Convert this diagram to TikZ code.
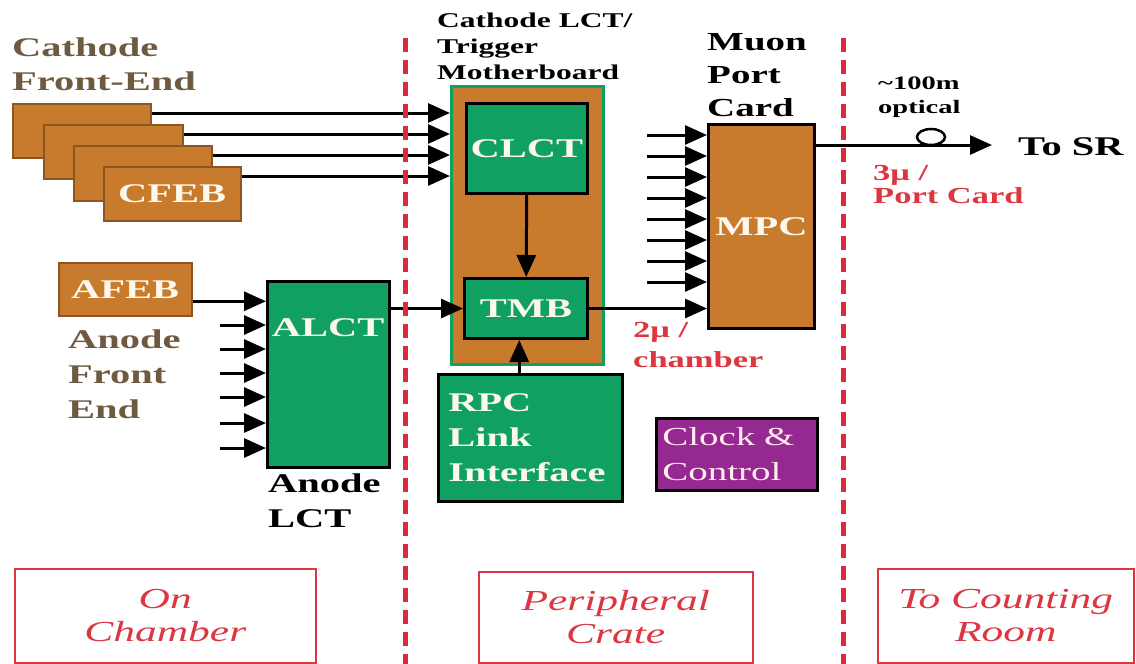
\documentclass[tikz,border=0pt]{standalone}
\usepackage{fontspec}
\setmainfont{Liberation Serif}[FakeStretch=1.5]
\usetikzlibrary{arrows.meta, positioning, calc}
\definecolor{cardorange}{RGB}{200,122,45}
\definecolor{cardedge}{RGB}{140,85,35}
\definecolor{chipgreen}{RGB}{16,160,98}
\definecolor{ctrlpurple}{RGB}{150,40,145}
\definecolor{febrown}{RGB}{110,90,65}
\definecolor{cutred}{RGB}{222,40,62}
\definecolor{notered}{RGB}{220,55,65}
\definecolor{boxwhite}{RGB}{252,248,235}

\newcommand{\blkfont}{\fontsize{27}{35}\selectfont\bfseries}
\newcommand{\notefont}{\fontsize{23}{30}\selectfont\bfseries}
\newcommand{\zonefont}{\fontsize{29}{33}\selectfont\itshape}

\tikzset{
  card/.style={draw=cardedge, line width=1.5pt, fill=cardorange, anchor=north west,
    inner sep=0pt, text=boxwhite, font=\blkfont},
  chip/.style={draw=black, line width=3pt, fill=chipgreen, anchor=north west,
    inner sep=0pt, text=boxwhite, font=\blkfont},
  txt/.style={anchor=north west, inner sep=0pt, align=left},
  sig/.style={line width=3pt, -{Triangle[length=22pt,width=19pt]}},
  zone/.style={draw=notered, line width=1.5pt, anchor=north west, text=notered,
    font=\zonefont, align=center, inner sep=0pt},
  cut/.style={draw=cutred, line width=5pt, dash pattern=on 14pt off 8pt}
}

\begin{document}
\begin{tikzpicture}[x=1pt, y=-1pt]
\useasboundingbox (0,0) rectangle (1136,664);

% on chamber side
\node[txt, text=febrown, font=\fontsize{27}{34}\selectfont\bfseries] (cathfe) at (12,38) {Cathode\\Front-End};
\node[card, minimum width=138pt, minimum height=54pt] (cfeb1) at (12,103) {};
\node[card, minimum width=139pt, minimum height=54pt] (cfeb2) at (43,124) {};
\node[card, minimum width=138pt, minimum height=55pt] (cfeb3) at (73,145) {};
\node[card, minimum width=137pt, minimum height=54pt, text depth=-8pt] (cfeb4) at (103,166) {CFEB};

\node[card, minimum width=133pt, minimum height=53pt] (afeb) at (58,262) {AFEB};
\node[txt, text=febrown, font=\blkfont] (anfe) at (68,330) {Anode\\Front\\End};

\node[chip, line width=2.5pt, minimum width=122pt, minimum height=186pt] (alct) at (266,280) {};
\node[inner sep=0pt, text=boxwhite, font=\blkfont, below=38pt of alct.north] (alcttxt) {ALCT};
\node[txt, font=\blkfont] (anlct) at (268,474) {Anode\\LCT};

% peripheral crate
\node[txt, font=\fontsize{21}{26}\selectfont\bfseries] (tmblbl) at (437,13) {Cathode LCT/\\Trigger\\Motherboard};
\node[draw=chipgreen, line width=2.5pt, fill=cardorange, anchor=north west,
  minimum width=152pt, minimum height=278pt] (board) at (450,85) {};
\node[chip, minimum width=121pt, minimum height=90pt] (clct) at (465,102) {CLCT};
\node[chip, minimum width=123pt, minimum height=60pt] (tmb) at (463,277) {TMB};
\node[chip, line width=2.5pt, minimum height=127pt, text width=164pt, inner xsep=10pt,
  align=left] (rpc) at (437,373) {RPC\\Link\\Interface};
\node[draw=black, line width=2.5pt, fill=ctrlpurple, anchor=north west, text=pink!30,
  font=\fontsize{26}{35}\selectfont, minimum height=72pt, text width=149pt,
  inner xsep=6pt, inner ysep=0pt, align=left] (clock) at (655,417) {Clock \&\\Control};

\node[txt, font=\fontsize{26}{33}\selectfont\bfseries] (muonlbl) at (707,33) {Muon\\Port\\Card};
\node[card, draw=black, line width=3pt, minimum width=106pt, minimum height=204pt] (mpc) at (707,123) {MPC};
\node[txt, text=notered, font=\notefont] (chlbl) at (633,322) {2μ /\\chamber};

% counting room side
\node[txt, font=\fontsize{19}{24}\selectfont\bfseries] (optlbl) at (878,77) {\textasciitilde100m\\optical};
\node[txt, font=\blkfont] (tosr) at (1018,137) {To SR};
\node[txt, text=notered, font=\fontsize{23}{23}\selectfont\bfseries] (pclbl) at (873,165) {3μ /\\Port Card};

% zones
\node[zone, minimum width=301pt, minimum height=94pt] (onch) at (14,568) {On\\Chamber};
\node[zone, minimum width=274pt, minimum height=91pt] (peri) at (478,571) {Peripheral\\Crate};
\node[zone, minimum width=256pt, minimum height=94pt] (tocr) at (877,568) {To Counting\\Room};

% signals
\foreach \i in {1,...,4} {
  \coordinate (cin\i) at ([yshift=-10pt]cfeb\i.north east);
  \draw[sig] (cin\i) -- (cin\i -| board.west);
}
\coordinate (afebout) at ([yshift=-12pt]afeb.east);
\draw[sig] (afebout) -- (afebout -| alct.west);
\foreach \y [count=\k] in {325,349,373,397,423,448} {
  \coordinate (ain\k) at (220,\y);
  \draw[sig] (ain\k) -- (ain\k -| alct.west);
}
\draw[sig] (alct.east |- tmb.west) -- (tmb.west);
\draw[sig] (clct) -- (tmb);
\coordinate (rpcout) at ([xshift=-11pt]rpc.north);
\draw[sig] (rpcout) -- (rpcout |- tmb.south);
\foreach \k in {0,...,7} {
  \coordinate (pin\k) at (647,135+21*\k);
  \draw[sig] (pin\k) -- (pin\k -| mpc.west);
}
\draw[sig] (tmb.east) -- (tmb.east -| mpc.west);
\coordinate (mpcout) at ([yshift=-22pt]mpc.north east);
\draw[sig, shorten >=26pt] (mpcout) -- (mpcout -| tosr.west);
\draw[line width=2.5pt] (931,137) ellipse[x radius=14pt, y radius=8pt];

% boundaries
\draw[cut] (405,38) -- (405,664);
\draw[cut] (843,38) -- (843,664);
\end{tikzpicture}
\end{document}
